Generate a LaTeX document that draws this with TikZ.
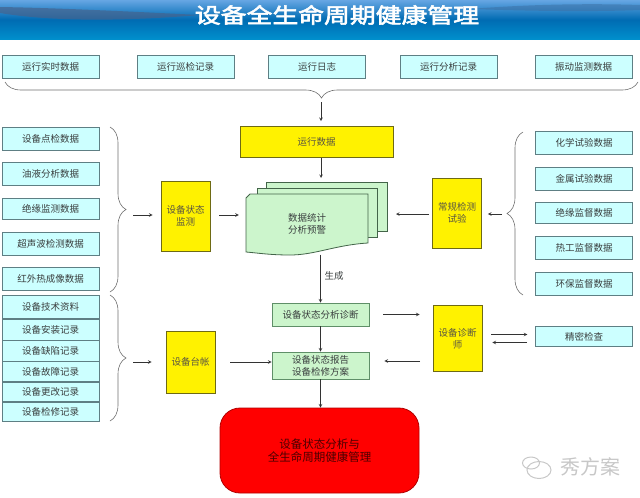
\documentclass[tikz,border=0pt]{standalone}
\usepackage{fontspec}
\setmainfont{Noto Sans CJK SC}
\newfontfamily\titlefont[FakeBold=2.5]{Noto Sans CJK SC}
\usetikzlibrary{decorations.pathreplacing,calc}
\definecolor{cyanbox}{HTML}{CCFFFF}
\definecolor{cyanline}{HTML}{5E7F84}
\definecolor{yellowline}{HTML}{6E6A14}
\definecolor{greenbox}{HTML}{CCF5CC}
\definecolor{greenline}{HTML}{5F8F68}
\definecolor{inktext}{HTML}{3A3F3F}
\definecolor{bracegray}{HTML}{6F6F6F}
\tikzset{
    databox/.style={draw=cyanline, line width=0.9pt, fill=cyanbox, text=inktext, minimum width=97, minimum height=23, inner sep=0pt, font=\fontsize{9.5}{11}\selectfont},
    stagebox/.style={draw=yellowline, line width=0.8pt, fill=yellow, text=black!75!yellow, minimum width=49, align=center, inner sep=0pt, font=\fontsize{9.5}{12}\selectfont},
    resultbox/.style={draw=greenline, line width=0.8pt, fill=greenbox, text=inktext, minimum width=97, align=center, inner sep=0pt, font=\fontsize{9.5}{12}\selectfont},
    sheet/.style={draw=greenline!70!black, line width=0.8pt, fill=greenbox},
    flow/.style={->, line width=0.6pt, black!80},
    bracket/.style={draw=bracegray, line width=0.6pt, decorate, decoration={brace, amplitude=16}},
}
\begin{document}
\begin{tikzpicture}[x=1pt, y=-1pt, >=stealth]
    \useasboundingbox (0,0) rectangle (640,498);

    \shade[top color=black!30!cyan!60!blue!60, bottom color=cyan!70!blue!80!black, middle color=cyan!60!blue!70!black] (0,0) rectangle (640,39);
    \fill[black!55!cyan!70!blue, opacity=0.7] (0,7) .. controls (60,8) and (140,12) .. (200,15) .. controls (140,20) and (60,23) .. (0,13) -- cycle;
    \fill[black!40!cyan!70!blue, opacity=0.5] (640,5) .. controls (580,3) and (520,5) .. (470,9) .. controls (530,11) and (590,12) .. (640,10) -- cycle;
    \node[text=white, xscale=1.23, transform shape, font=\titlefont\fontsize{21}{24}\selectfont] (title) at (337,15) {设备全生命周期健康管理};

    \node[databox] (realtime) at (50.5,66.5) {运行实时数据};
    \node[databox] (patrol) at (185.5,66.5) {运行巡检记录};
    \node[databox] (runlog) at (317,66.5) {运行日志};
    \node[databox] (analysisrec) at (448.5,66.5) {运行分析记录};
    \node[databox] (vibration) at (583.5,66.5) {振动监测数据};

    \node[databox] (spot) at (50.5,138.5) {设备点检数据};
    \node[databox] (oil) at (50.5,173.5) {油液分析数据};
    \node[databox, minimum height=21] (insulation) at (50.5,208.5) {绝缘监测数据};
    \node[databox] (ultrasonic) at (50.5,243.5) {超声波检测数据};
    \node[databox] (infrared) at (50.5,279) {红外热成像数据};

    \node[databox] (techdoc) at (50.5,306.5) {设备技术资料};
    \node[databox, minimum height=21] (install) at (50.5,329.5) {设备安装记录};
    \node[databox, minimum height=21] (defect) at (50.5,350.5) {设备缺陷记录};
    \node[databox, minimum height=20] (failure) at (50.5,371.5) {设备故障记录};
    \node[databox, minimum height=19] (modify) at (50.5,391.5) {设备更改记录};
    \node[databox, minimum height=19] (repair) at (50.5,411.5) {设备检修记录};

    \node[databox] (chemical) at (584,143) {化学试验数据};
    \node[databox] (metal) at (584,178.5) {金属试验数据};
    \node[databox, minimum height=21] (insulsup) at (584,213) {绝缘监督数据};
    \node[databox] (thermal) at (584,247.5) {热工监督数据};
    \node[databox] (envir) at (584,283.5) {环保监督数据};
    \node[databox, minimum height=20] (precise) at (584,336.5) {精密检查};

    \node[stagebox, minimum width=153, minimum height=31] (rundata) at (316.5,142) {运行数据};
    \node[stagebox, minimum height=70] (monitor) at (185.5,216) {设备状态\\监测};
    \node[stagebox, minimum height=70] (routine) at (457,213) {常规检测\\试验};
    \node[stagebox, minimum height=62] (ledger) at (190.5,362) {设备台帐};
    \node[stagebox, minimum height=66] (doctor) at (457.5,338.5) {设备诊断\\师};

    \draw[sheet] (266,182) -- (387,182) -- (387,231) -- (266,231) -- cycle;
    \draw[sheet] (257,188) -- (377,188) -- (377,237) -- (257,237) -- cycle;
    \draw[sheet] (246,198) -- (250,194) -- (368,194) -- (368,243) .. controls (335,245) and (315,255) .. (290,255) .. controls (270,255) and (258,253) .. (246,252) -- cycle;
    \node[minimum width=122, minimum height=61, align=center, inner sep=0pt, text=inktext, font=\fontsize{9.5}{12}\selectfont] (stats) at (307,224) {数据统计\\分析预警};
    \coordinate (stacktop) at (321,182);
    \coordinate (stackright) at (387,214);

    \node[resultbox, minimum height=23] (analysis) at (320.5,314.5) {设备状态分析诊断};
    \node[resultbox, minimum height=27] (report) at (320.5,365.5) {设备状态报告\\设备检修方案};
    \node[draw=red!70!black, line width=0.8pt, fill=red, rounded corners=20, minimum width=199, minimum height=85, align=center, inner sep=0pt, text=black!70!red, font=\fontsize{11.5}{13.5}\selectfont] (health) at (319.5,450.5) {设备状态分析与\\全生命周期健康管理};

    \node[text=inktext, inner sep=0pt, font=\fontsize{9.5}{11}\selectfont] (generate) at (334,276) {生成};

    \coordinate (topbrace) at (321,98);
    \coordinate (upperbrace) at (126,215);
    \coordinate (lowerbrace) at (127,362);
    \coordinate (rightbrace) at (507,214);
    \coordinate (doctorback) at (420,361);
    \draw[bracket] (638,82) -- (5,82);
    \draw[bracket] (110,127) -- (110,292);
    \draw[bracket] (110,295) -- (110,421);
    \draw[bracket] (523,295) -- (523,132);

    \draw[flow, shorten <=4, shorten >=5] (topbrace) -- (topbrace |- rundata.north);
    \draw[flow, shorten >=4] (stacktop |- rundata.south) -- (stacktop);
    \draw[flow, shorten <=7, shorten >=8] (upperbrace) -- (upperbrace -| monitor.west);
    \draw[flow, shorten <=9, shorten >=7] (upperbrace -| monitor.east) -- (upperbrace -| stats.west);
    \draw[flow, shorten <=3, shorten >=9] (rightbrace -| routine.west) -- (stackright);
    \draw[flow, shorten <=5, shorten >=6] (rightbrace) -- (rightbrace -| routine.east);
    \draw[flow] (analysis.north |- stats.south) -- (analysis.north);
    \draw[flow] (analysis) -- (report);
    \draw[flow] (report) -- (report |- health.north);
    \draw[flow, shorten <=6, shorten >=14] (lowerbrace) -- (ledger);
    \draw[flow, shorten <=15] (ledger) -- (ledger -| report.west);
    \draw[flow, shorten <=14, shorten >=13] (analysis.east) -- (analysis.east -| doctor.west);
    \draw[flow, shorten >=15] (doctorback) -- (doctorback -| report.east);
    \draw[flow, shorten <=9, shorten >=8] ($(doctor.east)+(0,-4)$) -- ($(doctor.east)+(53,-4)$);
    \draw[flow, shorten <=8, shorten >=10] ($(precise.west)+(0,6)$) -- ($(doctor.east)+(0,4)$);

    \draw[black!22, line width=1pt] (539,470) ellipse (12 and 8.5);
    \draw[black!22, line width=1pt] (531,463) ellipse (8.5 and 6);
    \node[text=black!22, inner sep=0pt, font=\fontsize{20}{22}\selectfont] (watermark) at (590,466.5) {秀方案};
\end{tikzpicture}
\end{document}
